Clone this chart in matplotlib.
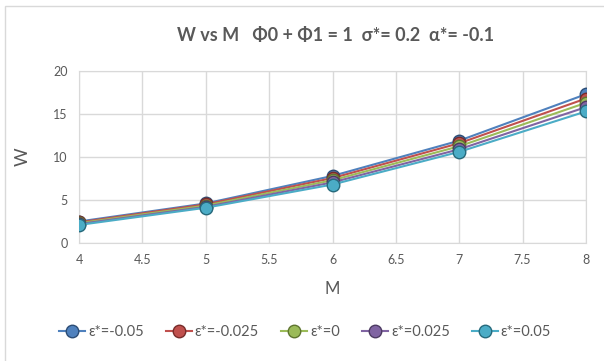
import matplotlib.pyplot as plt
from matplotlib.lines import Line2D

# M values and W for each epsilon*
m = [4, 5, 6, 7, 8]
w_eps_m005 = [2.5, 4.6, 7.8, 11.9, 17.3]
w_eps_m0025 = [2.4, 4.5, 7.55, 11.6, 16.8]
w_eps_0 = [2.3, 4.35, 7.3, 11.25, 16.3]
w_eps_p0025 = [2.2, 4.2, 7.05, 10.9, 15.8]
w_eps_p005 = [2.1, 4.1, 6.8, 10.6, 15.3]
labels = ['ε*=-0.05', 'ε*=-0.025', 'ε*=0', 'ε*=0.025', 'ε*=0.05']

series = [w_eps_m005, w_eps_m0025, w_eps_0, w_eps_p0025, w_eps_p005]
colors = ['#4F81BD', '#C0504D', '#9BBB59', '#8064A2', '#4BACC6']
edges = ['#2C4D75', '#772C2A', '#5F7530', '#4D3B62', '#276A7C']

plt.rcParams['font.family'] = ['Lato', 'DejaVu Sans']
txt = '#595959'

fig = plt.figure(figsize=(6.04, 3.61), dpi=100)
ax = fig.add_axes([79 / 604, 1 - 243 / 361, 507 / 604, 172 / 361])

for y, c, e, lab in zip(series, colors, edges, labels):
    ax.plot(m, y, color=c, lw=1.5, marker='o', ms=9, mfc=c, mec=e, mew=1.0,
            label=lab, zorder=3)

ax.set_xlim(4, 8)
ax.set_ylim(0, 20)
ax.set_xticks([4, 4.5, 5, 5.5, 6, 6.5, 7, 7.5, 8])
ax.set_xticklabels(['4', '4.5', '5', '5.5', '6', '6.5', '7', '7.5', '8'])
ax.set_yticks([0, 5, 10, 15, 20])
ax.grid(True, color='#D9D9D9', lw=1)
ax.set_axisbelow(True)
for s in ax.spines.values():
    s.set_color('#D9D9D9')
ax.tick_params(length=0, colors=txt, labelsize=9, pad=8)
ax.set_xlabel('M', color=txt, fontsize=12, labelpad=11)
ax.set_ylabel('W', color=txt, fontsize=13, labelpad=16, rotation=90)

fig.text(0.556, 1 - 36 / 361, 'W vs M   Φ0 + Φ1 = 1  σ*= 0.2  α*= -0.1',
         ha='center', va='center', fontsize=13, fontweight='bold', color=txt)

handles = [Line2D([0], [0], color=c, lw=1.5, marker='o', ms=9, mfc=c, mec=e)
           for c, e in zip(colors, edges)]
fig.legend(handles, labels, loc='center', bbox_to_anchor=(0.505, 1 - 332 / 361),
           ncol=5, frameon=False, fontsize=10.5, labelcolor=txt,
           handlelength=1.8, handletextpad=0.2, columnspacing=1.5)

# outer chart border
fig.add_artist(plt.Rectangle((5 / 604, -0.01), 1.0, 1 - 6 / 361 + 0.01,
                             transform=fig.transFigure, fill=False,
                             ec='#D9D9D9', lw=1))

fig.savefig('out.png', dpi=100)
